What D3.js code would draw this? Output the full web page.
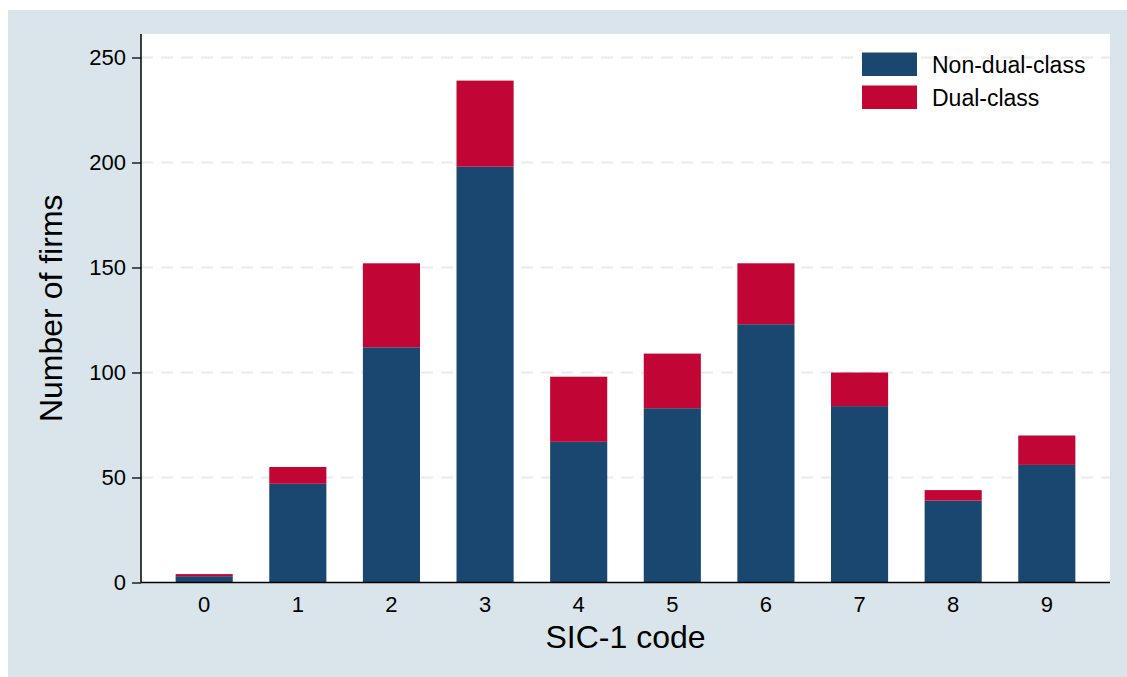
<!DOCTYPE html>
<html>
<head>
<meta charset="utf-8">
<script src="https://cdn.jsdelivr.net/npm/d3@7"></script>
<style>
  html, body { margin: 0; padding: 0; background: #ffffff; }
  svg { display: block; font-family: "Liberation Sans", Arial, Helvetica, sans-serif; }
</style>
</head>
<body>
<svg id="chart" width="1127" height="677"></svg>
<script>
const categories = ["0", "1", "2", "3", "4", "5", "6", "7", "8", "9"];
const nonDualClass = [3, 47, 112, 198, 67, 83, 123, 84, 39, 56];
const dualClass = [1, 8, 40, 41, 31, 26, 29, 16, 5, 14];
const seriesNames = ["Non-dual-class", "Dual-class"];
const seriesColors = ["#1a476f", "#c10534"];
const yTicks = [0, 50, 100, 150, 200, 250];

const W = 1127, H = 677;
const plot = { left: 141, right: 1110, top: 34, bottom: 582.5 };

const svg = d3.select("#chart");

// outer background
svg.append("rect").attr("x", 8).attr("y", 10).attr("width", W - 8).attr("height", H - 10)
  .attr("fill", "#d9e5eb");
// plot region
svg.append("rect").attr("x", plot.left).attr("y", plot.top)
  .attr("width", plot.right - plot.left).attr("height", plot.bottom - plot.top)
  .attr("fill", "#ffffff");

const x = d3.scaleBand().domain(categories).range([plot.left, plot.right])
  .paddingInner(0.39).paddingOuter(0.37);
const y = d3.scaleLinear().domain([0, 250]).range([plot.bottom, plot.bottom - 525]);

// gridlines
svg.append("g").selectAll("line").data(yTicks.filter(d => d > 0)).join("line")
  .attr("x1", plot.left).attr("x2", plot.right)
  .attr("y1", d => y(d)).attr("y2", d => y(d))
  .attr("stroke", "#eaeaea").attr("stroke-width", 2).attr("stroke-dasharray", "12,8");

// stacked data
const rows = categories.map((c, i) => ({ cat: c, nd: nonDualClass[i], d: dualClass[i] }));
const stack = d3.stack().keys(["nd", "d"])(rows);

svg.append("g").selectAll("g").data(stack).join("g")
  .attr("fill", (s, i) => seriesColors[i])
  .selectAll("rect").data(s => s).join("rect")
  .attr("x", d => x(d.data.cat))
  .attr("width", x.bandwidth())
  .attr("y", d => y(d[1]))
  .attr("height", d => y(d[0]) - y(d[1]));

// y axis
const yAxis = d3.axisLeft(y).tickValues(yTicks).tickSize(9).tickPadding(6);
const gy = svg.append("g").attr("transform", `translate(${plot.left},0)`).call(yAxis);
gy.select(".domain").remove();
gy.selectAll(".tick line").attr("stroke", "#000").attr("stroke-width", 1.3);
gy.selectAll(".tick text").attr("font-size", 22).attr("fill", "#000")
  .attr("font-family", "'Liberation Sans', Arial, sans-serif");
svg.append("line").attr("x1", plot.left).attr("x2", plot.left)
  .attr("y1", plot.top).attr("y2", plot.bottom)
  .attr("stroke", "#000").attr("stroke-width", 1.5);

// x axis
const xAxis = d3.axisBottom(x).tickSize(0).tickPadding(14);
const gx = svg.append("g").attr("transform", `translate(0,${plot.bottom})`).call(xAxis);
gx.select(".domain").remove();
gx.selectAll(".tick text").attr("font-size", 22).attr("fill", "#000")
  .attr("font-family", "'Liberation Sans', Arial, sans-serif");
svg.append("line").attr("x1", plot.left).attr("x2", plot.right)
  .attr("y1", plot.bottom).attr("y2", plot.bottom)
  .attr("stroke", "#000").attr("stroke-width", 1.5);

// axis titles
svg.append("text").attr("x", (plot.left + plot.right) / 2).attr("y", 648)
  .attr("text-anchor", "middle").attr("font-size", 32).attr("fill", "#000")
  .text("SIC-1 code");
svg.append("text").attr("transform", `translate(62,${(plot.top + plot.bottom) / 2}) rotate(-90)`)
  .attr("text-anchor", "middle").attr("font-size", 32).attr("fill", "#000")
  .text("Number of firms");

// legend
const legend = svg.append("g");
seriesNames.forEach((name, i) => {
  const yy = 52.5 + i * 33;
  legend.append("rect").attr("x", 862).attr("y", yy).attr("width", 55).attr("height", 23.5)
    .attr("fill", seriesColors[i]);
  legend.append("text").attr("x", 932).attr("y", yy + 20.5)
    .attr("font-size", 23).attr("fill", "#000").text(name);
});
</script>
</body>
</html>
